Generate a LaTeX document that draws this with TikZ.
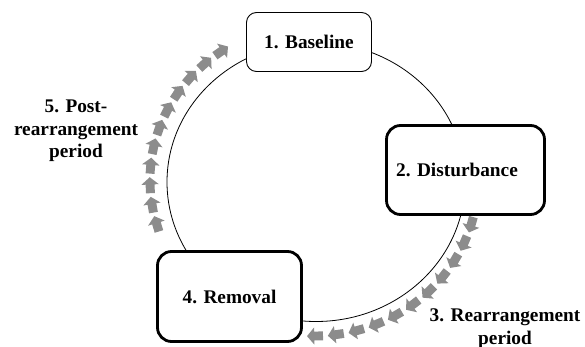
\documentclass[tikz,border=0pt]{standalone}
\usepackage{fontspec}
\setmainfont{Liberation Serif}
\usetikzlibrary{shapes.arrows}
\definecolor{arrowgray}{RGB}{140,140,140}
\begin{document}
\begin{tikzpicture}[x=1pt,y=1pt,
  lbltext/.style={font=\fontsize{19.3}{22.5}\selectfont\bfseries, inner sep=0pt},
  thinbox/.style={draw, fill=white, line width=0.9pt, rounded corners=10pt,
    minimum width=125pt, minimum height=59pt, lbltext},
  thickbox/.style={draw, fill=white, line width=2.8pt, rounded corners=14pt, lbltext},
  garrow/.style={single arrow, fill=arrowgray, draw=none, inner xsep=0pt, inner ysep=4.25pt,
    minimum height=16pt, single arrow head extend=4.25pt, single arrow tip angle=100}]
\useasboundingbox (0,0) rectangle (585,-347);
% cycle line
\draw[line width=0.8pt] (316,-182) ellipse [x radius=149, y radius=139.5];
% boxes
\node[thinbox] (b1) at (309,-42) {1. Baseline};
\node[thickbox, minimum width=158pt, minimum height=89pt,
  label={[lbltext, xshift=-8.5pt]center:2. Disturbance}] (b2) at (465.5,-170) {};
\node[thickbox, minimum width=144pt, minimum height=90pt] (b4) at (229.5,-296.5) {4. Removal};
% arrows: post-rearrangement
\foreach \k in {0,...,10}{
  \pgfmathsetmacro\t{197-7.2*\k}
  \node[garrow, rotate=\t-90] (u\k) at ({314+164*cos(\t)},{-180+156*sin(\t)}) {};
}
% arrows: rearrangement
\foreach \k in {0,...,10}{
  \pgfmathsetmacro\t{-16-7.3*\k}
  \node[garrow, rotate=\t-90] (d\k) at ({314+164*cos(\t)},{-180+156*sin(\t)}) {};
}
% labels
\node[lbltext, align=center] (l5) at (76,-131) {5. Post-\\rearrangement\\period};
\node[lbltext, align=center] (l3) at (505,-328.5) {3. Rearrangement\\period};
\end{tikzpicture}
\end{document}
